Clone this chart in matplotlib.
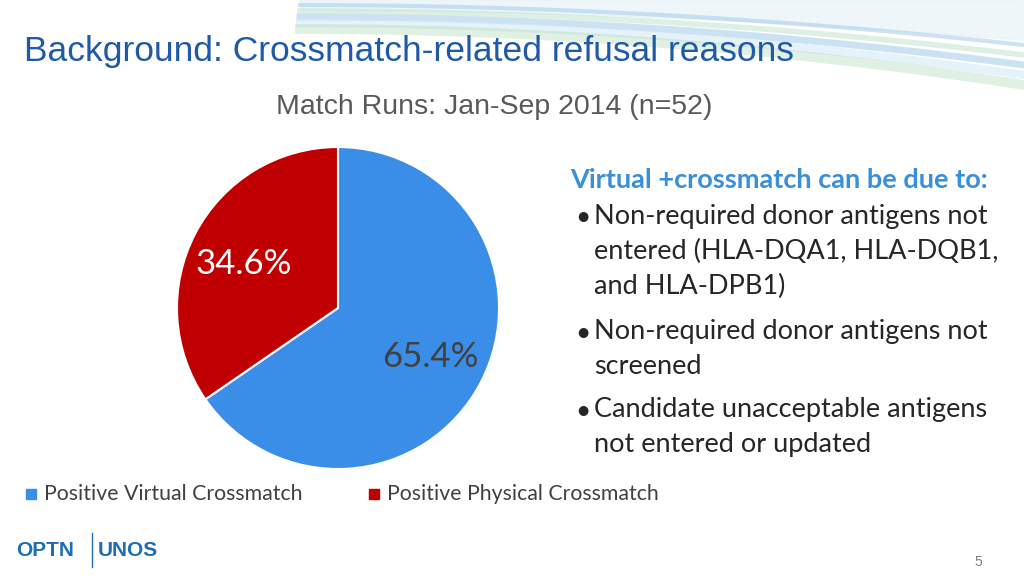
import matplotlib
matplotlib.use("Agg")
import matplotlib.pyplot as plt
import numpy as np

categories = ["Positive Virtual Crossmatch", "Positive Physical Crossmatch"]
values = [65.4, 34.6]
colors = ["#3A8EE8", "#C00000"]
bullets = ["Non-required donor antigens not\nentered (HLA-DQA1, HLA-DQB1,\nand HLA-DPB1)",
           "Non-required donor antigens not\nscreened",
           "Candidate unacceptable antigens\nnot entered or updated"]

fig = plt.figure(figsize=(10.24, 5.76), dpi=100)
bg = fig.add_axes([0, 0, 1, 1]); bg.set_xlim(0, 1024); bg.set_ylim(576, 0); bg.axis("off")

x = np.linspace(300, 1024, 200)
for i, (c, a) in enumerate([("#9CC9E8", .5), ("#BFE0C8", .5), ("#7FB8E0", .4), ("#D6EAF5", .6), ("#A8D5B0", .35)]):
    y = 5 + i*6 + 40*((x-300)/724)**2 * (1 + 0.1*i)
    bg.plot(x, y, color=c, alpha=a, lw=3+i)
bg.fill_between(x, 0, 10 + 30*((x-300)/724)**2, color="#E3F0F8", alpha=.6)

bg.text(24, 52, "Background: Crossmatch-related refusal reasons", fontsize=25.5,
        color="#1E5AA8", family="Liberation Sans", va="center")
bg.text(276, 107, "Match Runs: Jan-Sep 2014 (n=52)", fontsize=20.5,
        color="#595959", family="Liberation Sans", va="center")

R = 161
ax = fig.add_axes([(338-R)/1024, 1-(308+R)/576, 2*R/1024, 2*R/576])
ax.pie(values, colors=colors, startangle=90, counterclock=False,
       wedgeprops=dict(edgecolor="white", linewidth=1.5))
ax.set_xlim(-1, 1); ax.set_ylim(-1, 1); ax.set_aspect("equal")

fig.text(430/1024, 1-357/576, "65.4%", fontsize=25, color="#404040", family="Lato", ha="center", va="center")
fig.text(244/1024, 1-264/576, "34.6%", fontsize=25, color="white", family="Lato", ha="center", va="center")

bg.text(570, 180, "Virtual +crossmatch can be due to:", fontsize=19.5, weight="bold",
        color="#3A8FD9", family="Lato", va="center")
ys = [220, 335, 413]
for y0, b in zip(ys, bullets):
    bg.text(575, y0 - 2, "•", fontsize=19, color="#262626", family="Lato", va="center")
    bg.text(594, y0 - 16, b, fontsize=19.5, color="#262626", family="Lato", va="top", linespacing=1.5)

for lx, c, t in [(26, colors[0], categories[0]), (369, colors[1], categories[1])]:
    bg.add_patch(plt.Rectangle((lx, 489), 10, 10, color=c))
    bg.text(lx + 18, 494, t, fontsize=15.3, color="#404040", family="Lato", va="center")

bg.text(16, 550, "OPTN", fontsize=15, weight="bold", color="#1E6DB5", family="Liberation Sans", va="center")
bg.plot([92, 92], [533, 567], color="#1E6DB5", lw=1)
bg.text(98, 550, "UNOS", fontsize=15, weight="bold", color="#1E6DB5", family="Liberation Sans", va="center")
bg.text(978, 562, "5", fontsize=10, color="#808080", family="Liberation Sans", ha="center", va="center")

fig.savefig("out.png", dpi=100)
